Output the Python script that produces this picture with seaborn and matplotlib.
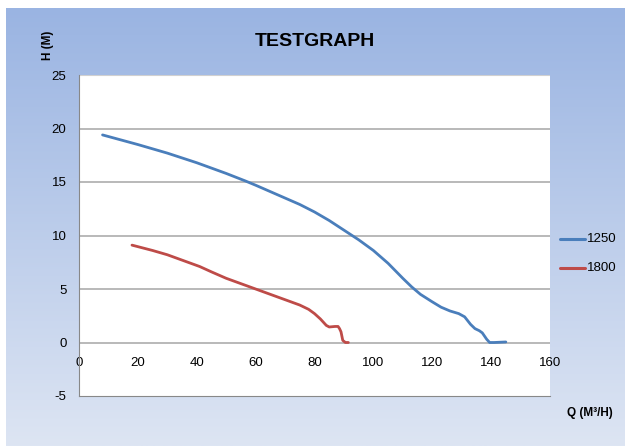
import numpy as np
import pandas as pd
import seaborn as sns
import matplotlib
matplotlib.use("Agg")
from matplotlib import pyplot as plt
from matplotlib.colors import LinearSegmentedColormap

# pump curves
q_1250 = [8, 20, 30, 40, 50, 56.5, 60, 65, 70, 75, 80, 85, 90, 95, 100, 105, 110, 113, 116, 120, 123,
          126, 129, 131, 133, 134.5, 136, 137, 138.5, 139.5, 141, 145]
h_1250 = [19.4, 18.5, 17.7, 16.8, 15.8, 15.1, 14.7, 14.1, 13.5, 12.9, 12.2, 11.4, 10.5, 9.6, 8.6, 7.4, 6.0, 5.2, 4.5, 3.8, 3.3,
          2.95, 2.7, 2.4, 1.7, 1.3, 1.1, 0.9, 0.3, 0.0, 0.0, 0.05]
q_1800 = [18, 25, 30, 35, 41, 45, 50, 55, 60, 65, 70, 75, 78, 80, 82, 84, 85, 87, 88, 88.5, 89, 89.3, 89.6, 90.5, 91.5]
h_1800 = [9.1, 8.6, 8.2, 7.7, 7.1, 6.6, 6.0, 5.5, 5.0, 4.5, 4.0, 3.5, 3.1, 2.7, 2.2, 1.6, 1.45, 1.5, 1.5, 1.3, 1.0, 0.6, 0.2, 0.0, 0.0]
series = ["1250", "1800"]
colors = ["#4a7ebb", "#be4b48"]

df = pd.concat([
    pd.DataFrame({"Q": q_1250, "H": h_1250, "curve": series[0]}),
    pd.DataFrame({"Q": q_1800, "H": h_1800, "curve": series[1]}),
])

sns.set_style("white")
plt.rcParams["font.family"] = ["Liberation Sans Narrow", "Liberation Sans", "DejaVu Sans"]
plt.rcParams["axes.unicode_minus"] = False
plt.rcParams["text.color"] = "black"
plt.rcParams["xtick.color"] = "black"
plt.rcParams["ytick.color"] = "black"

W, H = 625, 446
fig = plt.figure(figsize=(W / 100, H / 100), dpi=100)
fig.patch.set_facecolor("white")

# gradient background
bg = fig.add_axes([6 / W, 0, 1 - 6 / W, 1 - 8 / H])
cmap = LinearSegmentedColormap.from_list("bg", ["#9ab4e2", "#dde5f3"])
bg.imshow(np.linspace(0, 1, 256).reshape(-1, 1), cmap=cmap, aspect="auto", extent=[0, 1, 0, 1])
bg.axis("off")

ax = fig.add_axes([79 / W, (H - 396) / H, (550 - 79) / W, (396 - 75) / H])
ax.set_facecolor("white")
sns.lineplot(data=df, x="Q", y="H", hue="curve", palette=colors, sort=False,
             linewidth=2.0, estimator=None, ax=ax, legend=False)

ax.set_xlim(0, 160)
ax.set_ylim(-5, 25)
ax.set_xticks(range(0, 161, 20))
ax.set_yticks(range(-5, 26, 5))
ax.set_xlabel("")
ax.set_ylabel("")
for y in range(0, 21, 5):
    ax.axhline(y, color="#a6a6a6", lw=1.1, zorder=0)
for s in ["top", "right"]:
    ax.spines[s].set_visible(False)
ax.spines["left"].set_color("#888888")
ax.spines["bottom"].set_color("#888888")
ax.tick_params(axis="both", length=0, labelsize=9.5, colors="black")
ax.tick_params(axis="y", pad=9)
ax.tick_params(axis="x", pad=-28)
ax.axhline(25, color="#d0d0d0", lw=0.8)

# legend
for name, c, yy in zip(series, colors, [239, 268]):
    fig.add_artist(plt.Line2D([560 / W, 585 / W], [1 - yy / H] * 2, color=c, lw=2.2))
    fig.text(587 / W, 1 - yy / H, name, fontsize=9.5, va="center", ha="left")

fig.text(315 / W, 1 - 42 / H, "TESTGRAPH", fontsize=14, fontweight="bold", ha="center", va="center")
fig.text(48 / W, 1 - 45 / H, "H (M)", fontsize=8.5, fontweight="bold", rotation=90, ha="center", va="center")
fig.text(590 / W, 1 - 413 / H, "Q (M³/H)", fontsize=8.5, fontweight="bold", ha="center", va="center")

fig.savefig("out.png", dpi=100)
